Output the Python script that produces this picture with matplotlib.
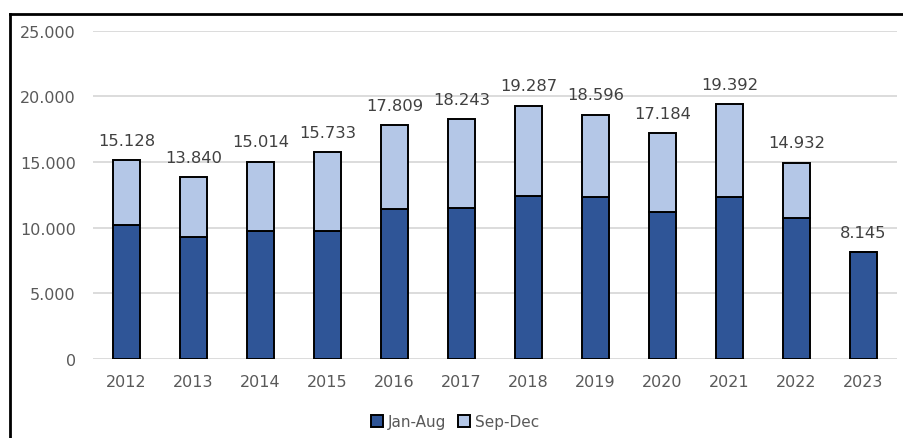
import matplotlib
matplotlib.use("Agg")
import matplotlib.pyplot as plt
from matplotlib.lines import Line2D
from matplotlib.ticker import FuncFormatter

years = ["2012", "2013", "2014", "2015", "2016", "2017", "2018", "2019", "2020", "2021", "2022", "2023"]
totals = [15128, 13840, 15014, 15733, 17809, 18243, 19287, 18596, 17184, 19392, 14932, 8145]
jan_aug = [10230, 9290, 9720, 9710, 11400, 11520, 12410, 12360, 11170, 12360, 10740, 8145]
sep_dec = [t - j for t, j in zip(totals, jan_aug)]

plt.rcParams['font.family'] = ['DejaVu Sans']

fig = plt.figure(figsize=(9.04, 4.39), dpi=100)
ax = fig.add_axes([93/904, 1 - 360/439, (897-93)/904, (360-31.7)/439])

x = list(range(len(years)))
w = 0.40
ax.bar(x, jan_aug, width=w, color="#2F5597", edgecolor="black", linewidth=1.4, label="Jan-Aug", zorder=3)
ax.bar(x, sep_dec, width=w, bottom=jan_aug, color="#B4C7E7", edgecolor="black", linewidth=1.4, label="Sep-Dec", zorder=3)

for xi, t in zip(x, totals):
    ax.annotate(f"{t:,}".replace(",", "."), (xi, t), xytext=(0, 9), textcoords="offset points",
                ha="center", va="bottom", fontsize=11.8, color="#404040")

ax.set_xlim(-0.5, len(years) - 0.5)
ax.set_ylim(0, 25000)
ax.set_yticks(range(0, 25001, 5000))
ax.yaxis.set_major_formatter(FuncFormatter(lambda v, p: f"{int(v):,}".replace(",", ".")))
ax.set_xticks(x)
ax.set_xticklabels(years)
ax.grid(axis="y", color="#D9D9D9", linewidth=1.3, zorder=0)
for s in ax.spines.values():
    s.set_visible(False)
ax.tick_params(axis="both", length=0, labelsize=11.5, colors="#595959")
ax.tick_params(axis="y", pad=12.5)
ax.tick_params(axis="x", pad=11)

leg = fig.legend(loc="center", bbox_to_anchor=(455/904, 1 - 423/439), ncol=2, frameon=False,
                 fontsize=11, handlelength=0.8, handleheight=0.8, handletextpad=0.3, columnspacing=0.8)
for txt in leg.get_texts():
    txt.set_color("#595959")

fig.add_artist(Line2D([10/904, 10/904], [0, 1 - 15/439], transform=fig.transFigure, color="black", linewidth=2))
fig.add_artist(Line2D([10/904, 1], [1 - 15/439, 1 - 15/439], transform=fig.transFigure, color="black", linewidth=2))

fig.savefig("out.png", dpi=100)
